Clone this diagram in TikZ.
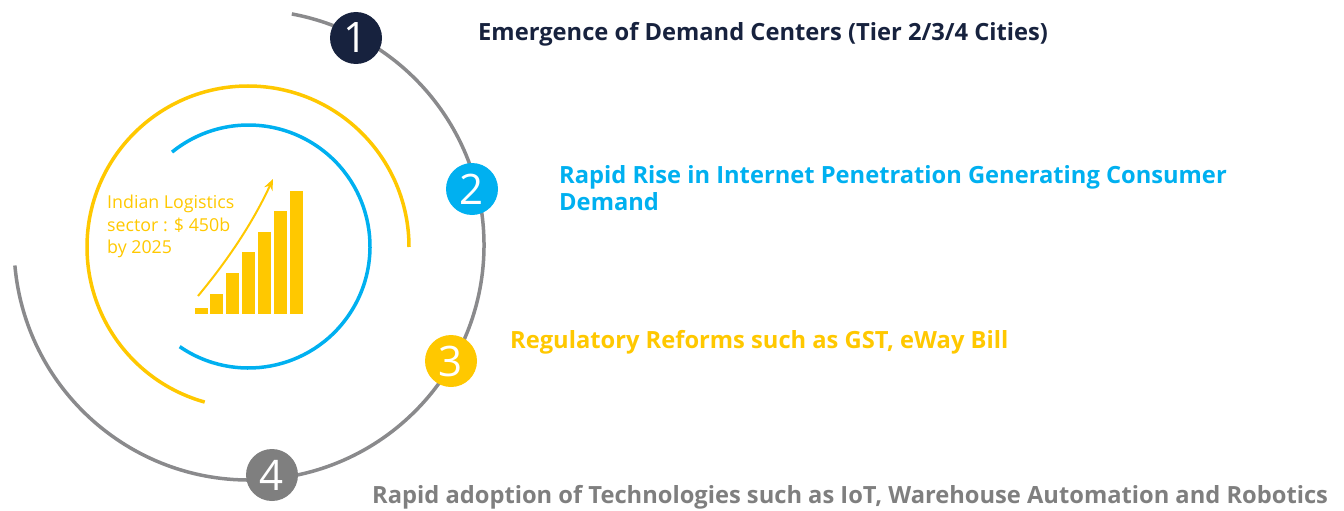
\documentclass[tikz,border=0pt]{standalone}
\usepackage{fontspec}
\setmainfont{Open Sans}
\usetikzlibrary{arrows.meta}
\definecolor{navy}{HTML}{17223E}
\definecolor{sky}{HTML}{00B0F0}
\definecolor{gold}{HTML}{FFC800}
\definecolor{ring}{HTML}{8A8A8C}
\definecolor{dgray}{HTML}{7F7F7F}
\begin{document}
\begin{tikzpicture}[x=1pt,y=-1pt,
  numdot/.style={circle,minimum size=52pt,inner sep=0pt,text=white,font=\fontsize{42}{42}\selectfont},
  lbl/.style={anchor=west,inner sep=0pt,font=\fontsize{23.7}{27}\selectfont\bfseries,align=left},
  bar/.style={fill=gold,draw=none}]
\useasboundingbox (0,0) rectangle (1344,511);
% gray ring (y axis flipped: angles negated)
\draw[ring,line width=3.5pt] (249,245) ++(-185:235) arc[start angle=-185,end angle=-439.5,radius=235];
% yellow arc
\draw[gold,line width=3.5pt] (248,247) ++(0:161) arc[start angle=0,end angle=-254.4,radius=161];
% blue arc
\draw[sky,line width=3.5pt] (248.5,246.5) ++(124.5:121.5) arc[start angle=124.5,end angle=-129,radius=121.5];
% bars
\fill[bar] (195,308) rectangle (208,314);
\fill[bar] (210,294) rectangle (223,314);
\fill[bar] (226,273) rectangle (239,314);
\fill[bar] (242,252) rectangle (255,314);
\fill[bar] (258,232) rectangle (271,314);
\fill[bar] (274,211) rectangle (287,314);
\fill[bar] (290,191) rectangle (303,314);
\coordinate (as) at (198,296);
\coordinate (ae) at (273,179);
\draw[gold,line width=2pt,-{Stealth[length=11pt,width=9pt]}] (as) .. controls (232,255) and (255,218) .. (ae);
\node[anchor=north west,inner sep=0pt,text=gold,align=left,font=\fontsize{17.8}{22.5}\selectfont] (sector) at (107,195) {Indian Logistics\\sector : \$ 450b\\by 2025};
% numbered dots
\node[numdot,fill=navy] (n1) at (356,38) {1};
\node[numdot,fill=sky] (n2) at (472,189) {2};
\node[numdot,fill=gold] (n3) at (451,361) {3};
\node[numdot,fill=dgray] (n4) at (272,475) {4};
% labels
\node[lbl,text=navy] (t1) at (478,34) {Emergence of Demand Centers (Tier 2/3/4 Cities)};
\node[lbl,text=sky] (t2) at (559,188) {Rapid Rise in Internet Penetration Generating Consumer\\Demand};
\node[lbl,text=gold] (t3) at (510,342) {Regulatory Reforms such as GST, eWay Bill};
\node[lbl,text=dgray] (t4) at (372,497) {Rapid adoption of Technologies such as IoT, Warehouse Automation and Robotics};
\end{tikzpicture}
\end{document}
